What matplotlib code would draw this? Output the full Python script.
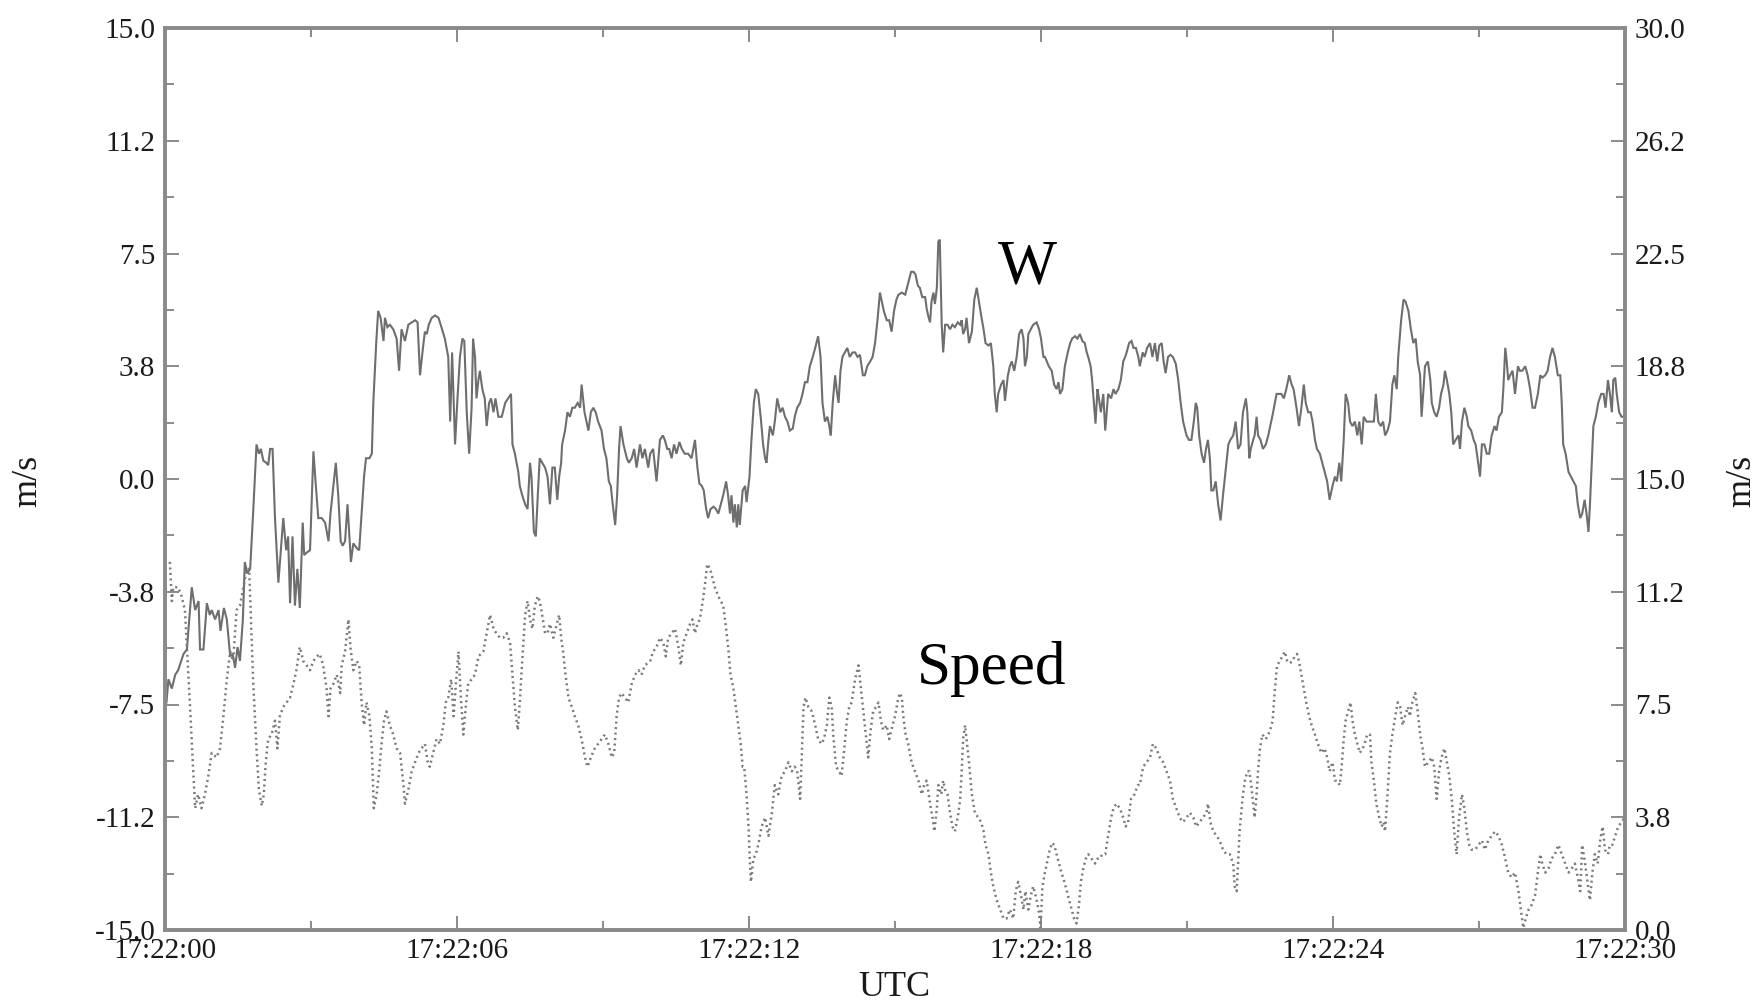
import matplotlib
matplotlib.use("Agg")
import matplotlib.pyplot as plt
from matplotlib.ticker import FixedLocator, FuncFormatter

plt.rcParams['font.family'] = ['Liberation Serif', 'DejaVu Serif']
plt.rcParams['axes.unicode_minus'] = False

# ---- data (seconds after 17:22:00) ----
w_time = [0.03, 0.07, 0.14, 0.21, 0.27, 0.38, 0.45, 0.55, 0.62, 0.69, 0.72, 0.79, 0.86, 0.92, 0.96,
          1.03, 1.10, 1.14, 1.21, 1.27, 1.34, 1.39, 1.44, 1.49, 1.54, 1.60, 1.64, 1.69, 1.75, 1.82,
          1.88, 1.93, 1.97, 2.02, 2.08, 2.12, 2.16, 2.21, 2.26, 2.33, 2.38, 2.43, 2.49, 2.53, 2.57,
          2.62, 2.67, 2.72, 2.77, 2.83, 2.86, 2.91, 2.98, 3.05, 3.10, 3.15, 3.22, 3.29, 3.36, 3.40,
          3.46, 3.51, 3.56, 3.61, 3.65, 3.70, 3.75, 3.79, 3.82, 3.87, 3.94, 3.99, 4.04, 4.09, 4.13,
          4.20, 4.25, 4.28, 4.34, 4.38, 4.43, 4.49, 4.52, 4.57, 4.62, 4.69, 4.76, 4.81, 4.86, 4.93,
          5.00, 5.07, 5.14, 5.19, 5.24, 5.29, 5.34, 5.38, 5.42, 5.48, 5.55, 5.62, 5.68, 5.75, 5.82,
          5.86, 5.90, 5.96, 6.01, 6.06, 6.11, 6.15, 6.20, 6.25, 6.30, 6.33, 6.37, 6.40, 6.44, 6.47,
          6.52, 6.57, 6.61, 6.66, 6.70, 6.75, 6.79, 6.85, 6.92, 6.99, 7.05, 7.11, 7.14, 7.19, 7.26,
          7.29, 7.34, 7.40, 7.45, 7.50, 7.53, 7.58, 7.62, 7.66, 7.70, 7.75, 7.81, 7.86, 7.91, 7.96,
          8.01, 8.06, 8.10, 8.14, 8.16, 8.22, 8.27, 8.32, 8.37, 8.42, 8.48, 8.53, 8.56, 8.62, 8.66,
          8.70, 8.75, 8.80, 8.85, 8.90, 8.97, 9.02, 9.07, 9.12, 9.16, 9.20, 9.25, 9.29, 9.33, 9.36,
          9.42, 9.49, 9.53, 9.59, 9.64, 9.69, 9.76, 9.81, 9.86, 9.93,
          9.97, 10.03, 10.10, 10.17, 10.23, 10.27, 10.32, 10.36, 10.41, 10.46, 10.51, 10.57, 10.62,
          10.68, 10.75, 10.82, 10.89, 10.94, 10.98, 11.03, 11.07, 11.12, 11.16, 11.21, 11.27, 11.32,
          11.37, 11.42, 11.47, 11.53, 11.57, 11.61, 11.64, 11.68, 11.71, 11.75, 11.78, 11.81, 11.87,
          11.92, 11.95, 12.01, 12.05, 12.10, 12.14, 12.19, 12.24, 12.29, 12.33, 12.36, 12.40, 12.43,
          12.49, 12.53, 12.58, 12.64, 12.69, 12.74, 12.79, 12.84, 12.90, 12.94, 12.99, 13.05, 13.10,
          13.15, 13.20, 13.25, 13.31, 13.36, 13.42, 13.47, 13.51, 13.56, 13.61, 13.65, 13.68, 13.72,
          13.77, 13.80, 13.84, 13.88, 13.92, 13.97, 14.02, 14.07, 14.13, 14.18, 14.23, 14.28, 14.34,
          14.38, 14.43, 14.49, 14.54, 14.59, 14.64, 14.69, 14.73, 14.77, 14.83, 14.88, 14.93, 14.98,
          15.03, 15.07, 15.14, 15.21, 15.27, 15.33, 15.38, 15.42, 15.47, 15.51, 15.56, 15.62, 15.65,
          15.68, 15.72, 15.75, 15.79, 15.82, 15.86, 15.89, 15.92, 15.96, 15.99, 16.03, 16.08, 16.13,
          16.18, 16.23, 16.29, 16.34, 16.37, 16.40, 16.44, 16.47, 16.52, 16.58, 16.63, 16.68, 16.71,
          16.77, 16.82, 16.86, 16.92, 16.97, 17.02, 17.05, 17.09, 17.12, 17.18, 17.23, 17.26, 17.32,
          17.36, 17.40, 17.45, 17.50, 17.55, 17.60, 17.64, 17.67, 17.71, 17.74, 17.79, 17.84, 17.91,
          17.96, 18.00, 18.05, 18.08, 18.12, 18.16, 18.22, 18.27, 18.32, 18.36, 18.39, 18.44, 18.49,
          18.55, 18.60, 18.64, 18.70, 18.75, 18.80, 18.85, 18.90, 18.94, 18.97, 19.02, 19.05, 19.10,
          19.12, 19.16, 19.19, 19.23, 19.28, 19.32, 19.35, 19.38, 19.44, 19.49, 19.53, 19.59, 19.64,
          19.69, 19.73, 19.76, 19.81, 19.86, 19.90, 19.95, 20.00,
          20.03, 20.09, 20.13, 20.18, 20.24, 20.29, 20.34, 20.39, 20.43, 20.48, 20.52, 20.56, 20.61,
          20.66, 20.71, 20.77, 20.82, 20.87, 20.92, 20.99, 21.04, 21.09, 21.14, 21.18, 21.21, 21.25,
          21.30, 21.35, 21.39, 21.43, 21.47, 21.50, 21.54, 21.59, 21.64, 21.69, 21.74, 21.80, 21.85,
          21.89, 21.95, 22.00, 22.05, 22.10, 22.15, 22.21, 22.24, 22.28, 22.31, 22.36, 22.39, 22.43,
          22.46, 22.51, 22.56, 22.62, 22.67, 22.71, 22.77, 22.84, 22.89, 22.94, 22.99, 23.04, 23.10,
          23.15, 23.19, 23.25, 23.30, 23.35, 23.40, 23.44, 23.49, 23.54, 23.58, 23.63, 23.67, 23.73,
          23.78, 23.83, 23.88, 23.93, 23.99, 24.04, 24.08, 24.13, 24.17, 24.22, 24.26, 24.31, 24.35,
          24.40, 24.45, 24.50, 24.54, 24.59, 24.63, 24.69, 24.74, 24.79, 24.84, 24.88, 24.93, 24.98,
          25.03, 25.07, 25.12, 25.17, 25.22, 25.26, 25.31, 25.34, 25.40, 25.45, 25.49, 25.55, 25.60,
          25.65, 25.70, 25.74, 25.79, 25.82, 25.86, 25.89, 25.95, 26.00, 26.03, 26.08, 26.13, 26.18,
          26.22, 26.27, 26.30, 26.34, 26.39, 26.43, 26.47, 26.52, 26.58, 26.61, 26.65, 26.70, 26.75,
          26.78, 26.84, 26.89, 26.93, 26.97, 27.02, 27.06, 27.11, 27.16, 27.21, 27.26, 27.32, 27.36,
          27.41, 27.47, 27.50, 27.54, 27.57, 27.60, 27.64, 27.69, 27.74, 27.80, 27.84, 27.89, 27.95,
          28.00, 28.05, 28.10, 28.15, 28.21, 28.26, 28.30, 28.36, 28.41, 28.46, 28.51, 28.56, 28.62,
          28.67, 28.70, 28.73, 28.78, 28.84, 28.89, 28.94, 28.99, 29.03, 29.08, 29.12, 29.17, 29.21,
          29.25, 29.28, 29.32, 29.35, 29.40, 29.45, 29.51, 29.56, 29.60, 29.65, 29.69, 29.73, 29.76,
          29.80, 29.83, 29.88, 29.93, 29.99]
w_speed = [-7.43, -6.66, -6.97, -6.51, -6.36, -5.82, -5.67, -3.60, -4.36, -4.06, -5.67, -5.67, -4.13, -4.52, -4.36,
           -4.67, -4.36, -5.05, -4.29, -4.67, -5.90, -5.82, -6.28, -5.59, -6.05, -4.67, -2.76, -3.14, -2.99, -0.84,
           1.15, 0.84, 1.00, 0.61, 0.54, 0.46, 1.00, 1.00, -1.30, -3.45, -2.37, -1.30, -2.37, -1.91, -4.13,
           -1.91, -4.21, -2.99, -4.29, -1.45, -2.53, -2.45, -2.37, 0.92, -0.23, -1.30, -1.30, -1.45, -2.07, -1.15,
           -0.23, 0.54, -0.54, -2.07, -2.22, -2.07, -0.84, -1.91, -2.76, -2.14, -2.30, -2.37, -1.15, 0.08, 0.69,
           0.69, 0.84, 2.53, 4.52, 5.59, 5.36, 4.59, 5.36, 5.05, 5.13, 4.98, 4.67, 3.60, 4.98, 4.59,
           5.13, 5.21, 5.28, 5.21, 3.45, 4.21, 4.90, 4.82, 5.13, 5.36, 5.44, 5.36, 5.05, 4.67, 4.06,
           1.91, 4.21, 1.15, 2.68, 4.06, 4.67, 4.59, 2.22, 0.84, 2.37, 4.67, 4.06, 2.68, 3.29, 3.60,
           2.99, 2.68, 1.76, 2.53, 2.68, 2.22, 2.68, 2.07, 2.07, 2.53, 2.68, 2.83, 1.15, 0.84, 0.23,
           -0.23, -0.54, -0.84, -1.00, 0.54, 0.08, -1.76, -1.91, -0.54, 0.69, 0.54, 0.38, 0.08, -0.84, 0.38,
           0.38, -0.69, 0.08, 0.54, 1.15, 1.61, 2.22, 2.07, 2.37, 2.37, 2.53, 2.37, 3.14, 2.22, 1.91,
           1.61, 2.22, 2.37, 2.22, 1.91, 1.61, 1.00, 0.69, -0.08, -0.23, -0.84, -1.53, -0.54, 1.00, 1.76,
           1.15, 0.69, 0.54, 0.69, 1.00, 0.38, 1.15, 0.69, 1.00, 0.38,
           0.84, 1.00, -0.08, 1.30, 1.45, 1.30, 1.00, 1.00, 0.69, 1.15, 0.84, 1.23, 1.00,
           0.84, 0.84, 0.69, 1.30, 0.38, -0.15, -0.23, -0.38, -1.00, -1.30, -1.00, -0.92, -1.00,
           -1.15, -0.84, -0.54, -0.08, -0.54, -1.15, -0.54, -1.45, -0.84, -1.61, -0.84, -1.53, -0.38,
           -0.23, -0.77, 0.08, 1.30, 2.53, 2.99, 2.83, 2.07, 1.15, 0.69, 0.54, 1.30, 1.76,
           1.45, 1.91, 2.68, 2.22, 2.37, 2.07, 1.91, 1.61, 1.68, 2.07, 2.37, 2.53, 2.83,
           3.22, 3.22, 3.75, 4.06, 4.36, 4.75, 4.06, 2.53, 1.91, 2.07, 1.76, 1.45, 2.53,
           3.45, 2.99, 2.53, 3.60, 4.06, 4.21, 4.36, 4.06, 4.21, 4.21, 4.06, 4.13, 3.45,
           3.45, 3.75, 3.91, 4.06, 4.52, 5.28, 6.20, 5.90, 5.59, 5.28, 5.28, 4.90, 5.59,
           5.97, 6.13, 6.20, 6.13, 6.51, 6.89, 6.89, 6.81, 6.43, 6.36, 6.05, 6.05, 5.67,
           5.44, 5.21, 5.90, 6.20, 5.82, 6.36, 7.89, 7.96, 5.13, 4.21, 5.13, 5.13, 4.98,
           5.13, 5.05, 5.21, 5.13, 5.28, 4.82, 4.98, 5.36, 4.52, 4.90, 5.97, 6.36, 6.05,
           5.44, 4.98, 4.52, 4.44, 4.52, 3.75, 2.83, 2.22, 2.83, 3.14, 3.29, 2.60, 3.45,
           3.75, 3.91, 3.60, 4.06, 4.82, 4.98, 4.67, 3.75, 4.06, 4.82, 4.98, 5.13, 5.21,
           4.98, 4.67, 4.06, 4.06, 3.91, 3.75, 3.60, 3.14, 2.99, 3.22, 2.83, 2.99, 3.75,
           4.21, 4.52, 4.67, 4.75, 4.67, 4.82, 4.59, 4.52, 4.21, 4.06, 3.75, 3.29, 2.22,
           1.84, 2.99, 2.68, 2.22, 2.83, 1.61, 2.22, 2.83, 2.68, 2.99, 2.83, 2.99, 3.29,
           3.91, 4.06, 4.21, 4.52, 4.59, 4.36, 4.36, 4.06,
           3.75, 4.21, 4.06, 4.36, 4.52, 4.06, 4.52, 3.91, 4.44, 4.52, 3.91, 3.52, 4.06,
           4.13, 4.06, 3.83, 3.29, 2.53, 1.91, 1.45, 1.30, 1.30, 1.91, 2.53, 2.37, 1.45,
           0.84, 0.54, 1.00, 1.30, 0.69, -0.38, -0.38, -0.08, -0.84, -1.38, -0.54, 0.38, 1.15,
           1.30, 1.45, 1.91, 1.00, 1.15, 2.22, 2.68, 2.22, 0.69, 1.00, 1.30, 1.45, 2.07,
           1.45, 1.30, 1.00, 1.15, 1.45, 1.76, 2.22, 2.83, 2.83, 2.83, 2.68, 2.99, 3.45,
           3.14, 2.99, 2.37, 1.76, 2.37, 3.14, 2.53, 2.22, 2.22, 1.91, 1.30, 1.00, 0.84,
           0.54, 0.23, -0.08, -0.69, -0.23, 0.08, -0.08, 0.54, -0.08, 1.30, 2.83, 2.53, 1.91,
           1.76, 1.91, 1.45, 1.91, 1.15, 2.07, 1.91, 1.91, 1.91, 1.91, 2.83, 1.91, 1.76,
           1.91, 1.45, 1.61, 1.91, 3.14, 3.45, 2.99, 4.06, 5.28, 5.97, 5.90, 5.59, 4.98,
           4.52, 4.67, 3.91, 3.45, 2.07, 2.99, 3.75, 3.91, 3.29, 2.53, 2.22, 2.07, 2.37,
           2.83, 3.14, 3.60, 3.29, 2.83, 2.22, 1.15, 1.30, 1.45, 1.00, 1.91, 2.37, 2.07,
           1.76, 1.61, 1.30, 1.15, 0.69, 0.08, 1.15, 1.15, 0.84, 0.84, 1.45, 1.76, 1.61,
           2.07, 2.22, 2.99, 4.36, 3.91, 3.29, 3.45, 3.60, 2.83, 3.75, 3.60, 3.60, 3.75,
           3.45, 2.99, 2.37, 2.37, 2.83, 3.45, 3.37, 3.45, 3.60, 4.06, 4.36, 4.06, 3.45,
           3.45, 2.53, 1.15, 0.84, 0.23, 0.08, -0.08, -0.23, -0.84, -1.30, -1.15, -0.69, -1.15,
           -1.76, -0.84, 0.69, 1.76, 2.07, 2.53, 2.83, 2.83, 2.37, 3.29, 2.83, 2.22, 3.29,
           3.37, 2.83, 2.22, 2.07, 2.07]

speed_time = [0.10, 0.14, 0.17, 0.21, 0.27, 0.34, 0.41, 0.45, 0.51, 0.58, 0.62, 0.68, 0.75, 0.82, 0.89,
              0.96, 1.06, 1.13, 1.20, 1.27, 1.34, 1.40, 1.47, 1.54, 1.61, 1.68, 1.73, 1.76, 1.81, 1.88,
              1.93, 1.99, 2.03, 2.07, 2.12, 2.19, 2.26, 2.31, 2.36, 2.43, 2.50, 2.57, 2.64, 2.70, 2.77,
              2.84, 2.91, 2.98, 3.05, 3.12, 3.18, 3.25, 3.32, 3.36, 3.40, 3.46, 3.53, 3.60, 3.63, 3.70,
              3.77, 3.81, 3.87, 3.94, 3.99, 4.04, 4.09, 4.14, 4.20, 4.25, 4.29, 4.35, 4.40, 4.45, 4.50,
              4.55, 4.62, 4.69, 4.76, 4.83, 4.90, 4.93, 5.00, 5.07, 5.14, 5.21, 5.27, 5.34, 5.40, 5.44,
              5.51, 5.58, 5.65, 5.72, 5.77, 5.82, 5.88, 5.93, 5.97, 6.03, 6.08, 6.13, 6.18, 6.23, 6.30,
              6.37, 6.44, 6.54, 6.61, 6.68, 6.75, 6.81, 6.88, 6.95, 7.02, 7.09, 7.14, 7.19, 7.25, 7.29,
              7.34, 7.40, 7.45, 7.50, 7.55, 7.60, 7.66, 7.70, 7.75, 7.81, 7.86, 7.91, 7.98, 8.05, 8.10,
              8.14, 8.18, 8.23, 8.29, 8.36, 8.42, 8.49, 8.56, 8.63, 8.68, 8.75, 8.83, 8.90, 8.97, 9.04,
              9.11, 9.18, 9.23, 9.28, 9.33, 9.38, 9.45, 9.52, 9.59, 9.66, 9.73, 9.79, 9.86,
              9.97, 10.03, 10.10, 10.17, 10.24, 10.29, 10.34, 10.41, 10.48, 10.55, 10.60, 10.65, 10.72,
              10.79, 10.84, 10.89, 10.94, 10.99, 11.05, 11.10, 11.14, 11.20, 11.25, 11.30, 11.37, 11.42,
              11.47, 11.53, 11.58, 11.62, 11.68, 11.73, 11.78, 11.83, 11.87, 11.90, 11.95, 11.99, 12.02,
              12.04, 12.09, 12.14, 12.19, 12.26, 12.33, 12.40, 12.47, 12.53, 12.60, 12.67, 12.74, 12.81,
              12.88, 12.94, 12.99, 13.05, 13.08, 13.12, 13.16, 13.22, 13.29, 13.36, 13.42, 13.49, 13.54,
              13.60, 13.65, 13.70, 13.73, 13.79, 13.85, 13.90, 13.95, 14.01, 14.06, 14.11, 14.18, 14.25,
              14.29, 14.35, 14.40, 14.45, 14.50, 14.55, 14.61, 14.66, 14.71, 14.76, 14.83, 14.88, 14.95,
              15.00, 15.07, 15.10, 15.14, 15.17, 15.22, 15.27, 15.34, 15.41, 15.48, 15.55, 15.60, 15.65,
              15.68, 15.72, 15.77, 15.81, 15.86, 15.89, 15.95, 15.99, 16.03, 16.08, 16.13, 16.18, 16.23,
              16.29, 16.34, 16.37, 16.40, 16.44, 16.47, 16.52, 16.58, 16.64, 16.71, 16.77, 16.82, 16.86,
              16.92, 16.97, 17.02, 17.09, 17.16, 17.23, 17.29, 17.36, 17.43, 17.48, 17.53, 17.59, 17.64,
              17.68, 17.74, 17.79, 17.84, 17.89, 17.95, 17.99, 18.03, 18.08, 18.14, 18.18, 18.23, 18.27,
              18.32, 18.37, 18.42, 18.48, 18.53, 18.58, 18.63, 18.68, 18.73, 18.78, 18.82, 18.87, 18.92,
              18.97, 19.04, 19.11, 19.16, 19.21, 19.26, 19.32, 19.38, 19.44, 19.49, 19.55, 19.62, 19.69,
              19.74, 19.79, 19.85, 19.92, 19.99,
              20.03, 20.10, 20.17, 20.24, 20.30, 20.37, 20.44, 20.51, 20.58, 20.65, 20.71, 20.78, 20.85,
              20.92, 20.99, 21.06, 21.13, 21.19, 21.26, 21.33, 21.40, 21.43, 21.48, 21.54, 21.61, 21.67,
              21.74, 21.81, 21.88, 21.95, 21.98, 22.02, 22.05, 22.08, 22.14, 22.19, 22.24, 22.28, 22.32,
              22.36, 22.39, 22.43, 22.46, 22.50, 22.55, 22.62, 22.67, 22.71, 22.76, 22.80, 22.85, 22.91,
              22.96, 23.01, 23.06, 23.11, 23.17, 23.21, 23.26, 23.30, 23.35, 23.40, 23.45, 23.51, 23.56,
              23.63, 23.69, 23.76, 23.83, 23.88, 23.93, 23.99, 24.04, 24.08, 24.14, 24.17, 24.22, 24.26,
              24.31, 24.36, 24.40, 24.45, 24.50, 24.55, 24.61, 24.65, 24.70, 24.76, 24.79, 24.84, 24.89,
              24.95, 25.00, 25.04,
              25.07, 25.12, 25.17, 25.22, 25.28, 25.33, 25.38, 25.43, 25.48, 25.54, 25.58, 25.63, 25.69,
              25.74, 25.79, 25.84, 25.89, 25.96, 26.03, 26.08, 26.13, 26.18, 26.23, 26.29, 26.34, 26.39,
              26.44, 26.49, 26.54, 26.59, 26.65, 26.70, 26.75, 26.80, 26.85, 26.92, 26.99, 27.06, 27.12,
              27.19, 27.26, 27.33, 27.40, 27.47, 27.54, 27.60, 27.67, 27.74, 27.81, 27.86, 27.91, 27.96,
              28.02, 28.08, 28.15, 28.21, 28.26, 28.30, 28.36, 28.43, 28.49, 28.56, 28.63, 28.70, 28.77,
              28.84, 28.91, 28.97, 29.03, 29.08, 29.12, 29.18, 29.23, 29.28, 29.33, 29.38, 29.44, 29.49,
              29.54, 29.59, 29.65, 29.69, 29.74, 29.80, 29.86, 29.93, 29.99]
speed_value = [12.24, 10.94, 11.40, 11.40, 11.40, 11.10, 10.64, 9.41, 7.57, 5.28, 4.05, 4.51, 4.05, 4.51, 5.12,
               5.89, 5.74, 6.04, 7.11, 8.34, 9.26, 8.95, 10.64, 10.79, 11.40, 12.01, 12.01, 10.64, 8.34, 6.04,
               4.66, 4.13, 4.51, 5.58, 6.35, 6.50, 6.96, 6.04, 7.11, 7.42, 7.57, 7.73, 8.19, 8.64, 9.41,
               8.95, 8.80, 8.64, 8.95, 9.10, 9.18, 8.80, 8.03, 7.11, 8.03, 8.19, 8.49, 7.88, 8.80, 9.26,
               10.33, 9.41, 8.64, 8.95, 8.80, 7.57, 6.81, 7.57, 7.11, 6.04, 4.05, 4.51, 5.28, 6.19, 6.96,
               7.27, 6.81, 6.50, 6.04, 5.89, 4.82, 4.20, 4.66, 5.28, 5.58, 5.89, 6.04, 6.19, 5.58, 5.43,
               5.89, 6.35, 6.19, 6.81, 7.57, 7.73, 8.34, 7.11, 8.03, 9.26, 7.73, 6.50, 7.42, 8.19, 8.34,
               8.49, 9.10, 9.26, 9.87, 10.48, 10.02, 9.87, 9.72, 9.72, 9.87, 9.56, 8.49, 7.42, 6.65, 7.57,
               8.95, 10.48, 10.94, 10.33, 10.02, 10.79, 11.10, 10.94, 10.48, 9.87, 9.87, 10.18, 9.72, 10.18, 10.48,
               9.72, 9.26, 8.49, 7.73, 7.42, 7.11, 6.81, 6.35, 5.74, 5.43, 5.74, 6.04, 6.19, 6.35, 6.50,
               6.19, 5.74, 5.89, 7.11, 7.73, 7.88, 7.73, 7.57, 8.19, 8.49, 8.64, 8.49, 8.80,
               8.95, 9.26, 9.41, 9.72, 9.56, 9.10, 9.72, 9.87, 10.02, 9.41, 8.80, 9.56, 9.87,
               10.18, 10.33, 9.87, 10.18, 10.33, 10.94, 11.55, 12.17, 12.01, 11.71, 11.40, 11.10, 10.94,
               10.79, 10.02, 9.26, 8.49, 8.03, 7.42, 6.81, 6.19, 5.43, 5.43, 4.51, 3.44, 2.21,
               1.60, 2.37, 2.52, 2.83, 3.44, 3.74, 3.13, 3.90, 4.82, 4.51, 5.12, 5.28, 5.58,
               5.28, 5.43, 5.28, 4.36, 5.58, 7.42, 7.73, 7.42, 7.27, 6.81, 6.35, 6.19, 6.35,
               6.81, 7.73, 7.42, 6.50, 5.43, 5.28, 5.12, 5.89, 6.96, 7.42, 7.57, 8.34, 8.80,
               8.19, 7.27, 6.50, 5.74, 6.65, 7.27, 7.42, 7.57, 6.96, 6.65, 6.81, 6.35, 6.81,
               7.11, 7.73, 7.88, 7.73, 7.11, 6.50, 6.19, 5.58, 5.28, 4.97, 4.51, 4.82, 4.97,
               4.66, 4.20, 3.74, 3.28, 4.05, 4.82, 4.51, 4.97, 4.66, 4.51, 3.90, 3.44, 3.28,
               3.74, 4.36, 5.28, 6.35, 6.81, 6.35, 5.58, 4.51, 3.90, 3.74, 3.59, 3.28, 2.83,
               2.52, 1.91, 1.45, 0.99, 0.68, 0.38, 0.38, 0.68, 0.38, 1.29, 1.60, 1.14, 0.68,
               1.29, 0.68, 1.14, 1.45, 1.14, 0.68, 0.07, 1.45, 1.91, 2.37, 2.67, 2.90, 2.83,
               2.52, 2.21, 1.91, 1.60, 1.29, 0.99, 0.68, 0.38, 0.22, 0.83, 1.60, 2.06, 2.37,
               2.52, 2.37, 2.21, 2.37, 2.37, 2.52, 2.52, 3.13, 3.74, 4.05, 4.20, 4.05, 3.74,
               3.44, 3.59, 4.36, 4.51, 4.82,
               4.82, 5.43, 5.58, 5.74, 6.19, 6.04, 5.74, 5.58, 5.28, 4.97, 4.36, 4.05, 3.74,
               3.59, 3.74, 3.90, 3.74, 3.44, 3.59, 3.74, 3.90, 4.20, 3.59, 3.28, 3.13, 2.98,
               2.67, 2.52, 2.52, 2.21, 1.45, 1.29, 2.21, 3.28, 4.36, 4.97, 5.28, 5.28, 4.82,
               4.20, 3.74, 4.51, 5.28, 6.04, 6.50, 6.35, 6.50, 6.65, 6.96, 7.88, 8.80, 8.95,
               9.10, 9.26, 8.95, 8.87, 8.95, 9.10, 9.18, 8.95, 8.49, 8.03, 7.57, 7.11, 6.81,
               6.50, 6.19, 5.89, 6.04, 5.74, 5.28, 5.58, 4.97, 4.97, 4.82, 5.28, 6.35, 6.96,
               7.27, 7.57, 6.96, 6.50, 6.19, 5.89, 6.04, 6.19, 6.50, 6.50, 5.58, 4.97, 4.20,
               3.74, 3.44, 3.59,
               3.28, 4.51, 5.89, 6.50, 7.11, 7.57, 7.42, 6.81, 7.11, 7.42, 7.11, 7.57, 7.88,
               7.27, 6.50, 6.04, 5.43, 5.58, 5.74, 5.43, 4.36, 5.28, 5.74, 6.04, 5.58, 5.12,
               4.36, 3.28, 2.52, 3.74, 4.51, 4.05, 3.28, 2.83, 2.67, 2.67, 2.83, 2.98, 2.67,
               2.98, 3.13, 3.28, 3.13, 2.83, 2.37, 1.91, 1.75, 1.91, 1.29, 0.68, 0.07, 0.38,
               0.68, 0.83, 1.14, 1.91, 2.52, 2.21, 1.91, 2.06, 2.37, 2.52, 2.83, 2.52, 2.21,
               1.91, 2.06, 2.21, 1.75, 1.29, 2.83, 2.21, 1.60, 0.99, 1.91, 2.52, 2.21, 2.98,
               3.44, 2.67, 2.52, 2.83, 2.83, 3.13, 3.44, 3.59, 3.74]

x_major = [0, 6, 12, 18, 24, 30]
x_minor = [3, 9, 15, 21, 27]
left_major = [-15, -11.25, -7.5, -3.75, 0, 3.75, 7.5, 11.25, 15]
right_major = [0, 3.75, 7.5, 11.25, 15, 18.75, 22.5, 26.25, 30]

axis_gray = '#8a8a8a'
text_col = '#1a1a1a'

fig = plt.figure(figsize=(17.59, 10.02), dpi=100)
ax = fig.add_axes([165/1759, 1 - 930/1002, 1460/1759, 902/1002])
ax2 = ax.twinx()

ax.plot(w_time, w_speed, color='#6e6e6e', lw=1.5, solid_joinstyle='miter')
ax2.plot(speed_time, speed_value, color='#7a7a7a', lw=1.8, linestyle=(0, (0.8, 1.4)))

ax.set_xlim(0, 30)
ax.set_ylim(-15, 15)
ax2.set_ylim(0, 30)

ax.xaxis.set_major_locator(FixedLocator(x_major))
ax.xaxis.set_minor_locator(FixedLocator(x_minor))
ax.xaxis.set_major_formatter(FuncFormatter(lambda v, p: "17:22:%02d" % int(round(v))))
ax.yaxis.set_major_locator(FixedLocator(left_major))
ax.yaxis.set_minor_locator(FixedLocator([v + 1.875 for v in left_major[:-1]]))
ax.yaxis.set_major_formatter(FuncFormatter(lambda v, p: "%.1f" % v))
ax2.yaxis.set_major_locator(FixedLocator(right_major))
ax2.yaxis.set_minor_locator(FixedLocator([v + 1.875 for v in right_major[:-1]]))
ax2.yaxis.set_major_formatter(FuncFormatter(lambda v, p: "%.1f" % v))

for a in (ax, ax2):
    for s in a.spines.values():
        s.set_color(axis_gray)
        s.set_linewidth(2.6)

ax.tick_params(axis='both', which='both', direction='in', color=axis_gray, width=1.4,
               labelsize=21, labelcolor=text_col)
ax.tick_params(axis='both', which='major', length=10)
ax.tick_params(axis='both', which='minor', length=6.5)
ax.tick_params(axis='x', which='both', top=True, pad=5.5)
ax.tick_params(axis='y', which='both', right=False, pad=7)
ax2.tick_params(axis='y', which='both', direction='in', color=axis_gray, width=1.4,
                labelsize=21, labelcolor=text_col, pad=7)
ax2.tick_params(axis='y', which='major', length=10)
ax2.tick_params(axis='y', which='minor', length=6.5)

ax.text(17.12, 6.49, "W", fontsize=45, color='black', ha='left', va='baseline')
ax.text(15.45, -6.82, "Speed", fontsize=44, color='black', ha='left', va='baseline')

fig.text(28/1759, 1 - 481/1002, "m/s", rotation=90, fontsize=26, color=text_col,
         ha='center', va='center')
fig.text(1742/1759, 1 - 481/1002, "m/s", rotation=90, fontsize=26, color=text_col,
         ha='center', va='center')
fig.text(894/1759, 1 - 987/1002, "UTC", fontsize=26, color=text_col, ha='center', va='center')

fig.savefig("out.png", dpi=100)
